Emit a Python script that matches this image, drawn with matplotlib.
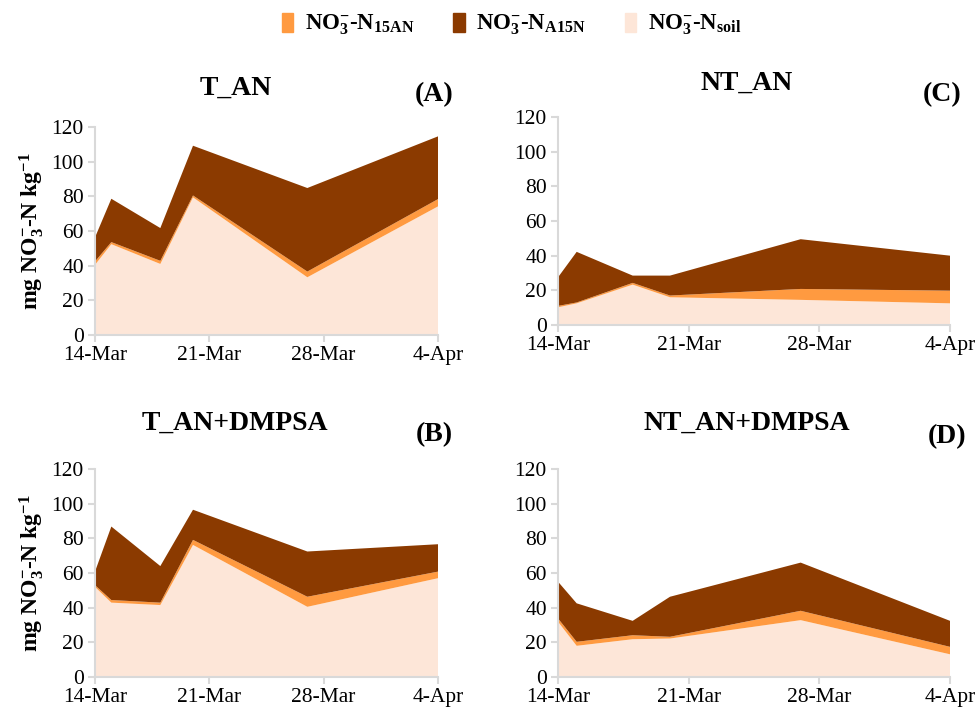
import datetime as dt
import matplotlib
matplotlib.use("Agg")
import matplotlib.pyplot as plt
import matplotlib.dates as mdates

plt.rcParams['font.family'] = ['Liberation Serif', 'DejaVu Serif']
plt.rcParams['mathtext.fontset'] = 'custom'
plt.rcParams['mathtext.rm'] = 'Liberation Serif:bold'
plt.rcParams['mathtext.bf'] = 'Liberation Serif:bold'
plt.rcParams['mathtext.it'] = 'Liberation Serif:bold:italic'

# sampling dates
dates = [dt.date(2019, 3, 14), dt.date(2019, 3, 15), dt.date(2019, 3, 18),
         dt.date(2019, 3, 20), dt.date(2019, 3, 27), dt.date(2019, 4, 4)]

# NO3--N pools (mg kg-1) per treatment: soil, 15AN, A15N
t_an_soil = [40.5, 52.4, 41.0, 79.4, 33.3, 74.2]
t_an_15an = [1.9, 1.2, 1.8, 1.1, 3.3, 4.2]
t_an_a15n = [13.9, 25.0, 18.9, 28.7, 48.2, 36.2]

t_dmpsa_soil = [52.0, 42.9, 41.5, 76.2, 40.5, 57.0]
t_dmpsa_15an = [1.0, 1.5, 1.4, 2.9, 5.8, 3.8]
t_dmpsa_a15n = [7.8, 42.4, 21.1, 17.4, 26.1, 15.8]

nt_an_soil = [10.2, 12.5, 23.3, 16.0, 14.5, 12.5]
nt_an_15an = [0.8, 0.5, 1.0, 1.0, 6.3, 7.3]
nt_an_a15n = [16.5, 29.2, 4.2, 11.5, 28.7, 20.2]

nt_dmpsa_soil = [31.9, 18.0, 21.8, 22.2, 32.8, 13.1]
nt_dmpsa_15an = [1.9, 2.3, 2.3, 1.0, 5.4, 4.3]
nt_dmpsa_a15n = [21.2, 22.2, 8.3, 23.1, 27.8, 15.0]

panels = [
    ("T_AN", "(A)", t_an_soil, t_an_15an, t_an_a15n),
    ("NT_AN", "(C)", nt_an_soil, nt_an_15an, nt_an_a15n),
    ("T_AN+DMPSA", "(B)", t_dmpsa_soil, t_dmpsa_15an, t_dmpsa_a15n),
    ("NT_AN+DMPSA", "(D)", nt_dmpsa_soil, nt_dmpsa_15an, nt_dmpsa_a15n),
]

c_soil = '#FDE6D8'
c_15an = '#FF9A40'
c_a15n = '#8B3A00'
grey = '#D9D9D9'

W, H = 978, 712
fig = plt.figure(figsize=(W / 100, H / 100), dpi=100)

# axes boxes in pixels: left, top, right, bottom
boxes = [(95, 127, 438, 335), (558, 117, 950, 325),
         (95, 469, 438, 677), (558, 469, 950, 677)]
title_pos = [(236, 88), (747, 83), (235, 423), (747, 423)]
tag_pos = [(434, 95), (942, 95), (434, 435), (947, 437)]

ylab = 'mg NO$_3^{-}$-N kg$^{-1}$'
xticks = [dt.date(2019, 3, 14), dt.date(2019, 3, 21),
          dt.date(2019, 3, 28), dt.date(2019, 4, 4)]

for i, (name, tag, soil, n15, a15) in enumerate(panels):
    l, t, r, b = boxes[i]
    ax = fig.add_axes([l / W, 1 - b / H, (r - l) / W, (b - t) / H])
    ax.stackplot(dates, soil, n15, a15, colors=[c_soil, c_15an, c_a15n],
                 linewidth=0)
    ax.set_ylim(0, 120)
    ax.set_yticks(range(0, 121, 20))
    ax.set_yticklabels([str(v) for v in range(0, 121, 20)],
                       family='Liberation Serif')
    ax.set_xlim(dates[0], xticks[-1])
    ax.set_xticks(xticks)
    ax.set_xticklabels([d.strftime('%-d-%b') for d in xticks],
                       family='Liberation Serif')
    for s in ['top', 'right']:
        ax.spines[s].set_visible(False)
    for s in ['left', 'bottom']:
        ax.spines[s].set_color(grey)
        ax.spines[s].set_linewidth(1.5)
    ax.tick_params(axis='both', colors=grey, labelcolor='black',
                   labelsize=15.5, length=5, width=1.5, direction='out')
    ax.tick_params(axis='x', pad=3)
    ax.tick_params(axis='y', pad=3)
    if i in (0, 2):
        ax.set_ylabel(ylab, fontsize=17, fontweight='bold', labelpad=4)

    tx, ty = title_pos[i]
    fig.text(tx / W, 1 - ty / H, name, fontsize=20, fontweight='bold',
             ha='center', va='center')
    gx, gy = tag_pos[i]
    fig.text(gx / W, 1 - gy / H, tag, fontsize=20, fontweight='bold',
             ha='center', va='center')

handles = [plt.Rectangle((0, 0), 1, 1, color=c) for c in (c_15an, c_a15n, c_soil)]
labels = ['NO$_3^{-}$-N$_{\\mathrm{15AN}}$', 'NO$_3^{-}$-N$_{\\mathrm{A15N}}$',
          'NO$_3^{-}$-N$_{\\mathrm{soil}}$']
fig.legend(handles, labels, loc='center', bbox_to_anchor=(0.523, 1 - 25 / H),
           ncol=3, frameon=False, prop={'size': 16.5, 'weight': 'bold'},
           handlelength=0.5, handleheight=0.9, handletextpad=0.5,
           columnspacing=1.7)

fig.savefig('out.png', dpi=100)
